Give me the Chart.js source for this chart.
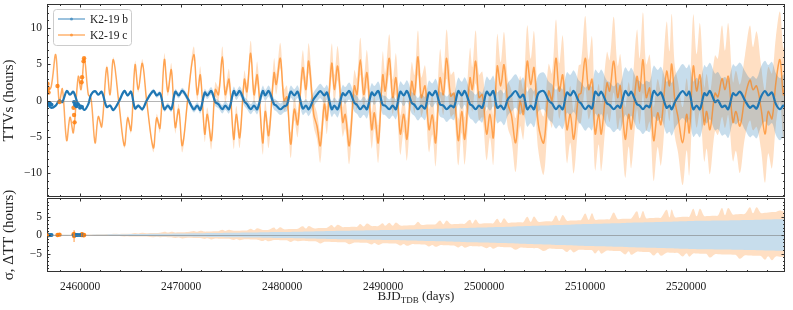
<!DOCTYPE html>
<html>
<head>
<meta charset="utf-8">
<script src="https://cdn.jsdelivr.net/npm/chart.js@4.4.1/dist/chart.umd.min.js"></script>
<style>
  body { margin: 0; background: #fff; width: 793px; height: 310px; overflow: hidden; position: relative; }
  canvas { position: absolute; left: 0; }
  #topChart { top: 0; }
  #botChart { top: 180px; }
</style>
</head>
<body>
<canvas id="topChart" width="793" height="198"></canvas>
<canvas id="botChart" width="793" height="130"></canvas>
<script>
// epoch offsets in days from BJD 2460000
const BJD0 = 2460000;
const epochDays = [
  -3270, -2870, -2410, -2050, -1750, -1320, -990, -660, -170, 100,
  430, 820, 1090, 1490, 1810, 2150, 2640, 2970, 3300, 3860,
  4390, 4720, 5050, 5450, 5770, 6170, 6600, 7260, 7590, 7920,
  8350, 8690, 9040, 9430, 9770, 10130, 10690, 11260, 11610, 11910,
  12350, 12600, 13000, 13390, 13710, 14090, 14380, 14750, 15220, 15470,
  15810, 16270, 16530, 16900, 17230, 17550, 18090, 18340, 18680, 19210,
  19430, 19830, 20200, 20490, 20860, 21220, 21550, 22050, 22370, 22640,
  23140, 23460, 23790, 24190, 24450, 24920, 25180, 25510, 26010, 26260,
  26660, 27160, 27420, 27750, 28090, 28410, 28880, 29140, 29530, 29970,
  30220, 30620, 30960, 31280, 31710, 32050, 32370, 32840, 33120, 33460,
  33790, 34160, 34550, 34880, 35210, 35640, 35970, 36300, 36700, 37030,
  37450, 37790, 38090, 38610, 38840, 39170, 39500, 39830, 40260, 40590,
  40920, 41310, 41650, 41980, 42370, 42700, 43130, 43560, 43890, 44280,
  44620, 44950, 45380, 45910, 46400, 46730, 47120, 47450, 47790, 48210,
  48540, 48880, 49370, 49600, 50020, 50360, 50690, 51010, 51350, 51610,
  52170, 52440, 52840, 53230, 53490, 53980, 54320, 54580, 55140, 55410,
  55740, 56060, 56400, 56800, 57190, 57520, 58080, 58360, 58580, 58900,
  59200, 59670, 60060, 60320, 60720, 61050, 61380, 61810, 62040, 62370,
  62870, 63160, 63560, 63860, 64180, 64650, 64940, 65340, 65840, 66330,
  66630, 66990, 67420, 67820, 68140, 68510, 68900, 69300, 69630, 69800
];

// TTVs (hours)
const ttvB = [
  -0.4, -1.0, -0.7, 0.0, -0.2, 1.3, 0.8, 1.2, -0.6, -0.7,
  -1.3, -0.5, 0.8, 1.3, 0.8, 1.2, -0.9, -0.7, -1.3, -0.1,
  1.3, 0.7, 1.2, -1.1, -0.7, -1.2, 0.0, 1.3, 0.7, 1.0,
  -1.2, -0.7, -1.2, 1.2, 0.7, 1.35, 0.2, -1.2, -0.7, -1.3,
  1.1, 0.7, 1.3, -0.2, -0.5, -1.2, -0.7, -1.2, 1.3, 0.7,
  1.3, -0.1, -0.5, -1.2, -0.7, -1.2, 1.3, 0.7, 1.3, -0.5,
  -0.7, -1.2, -0.8, -0.6, 1.2, 0.7, 1.2, -1.1, -0.7, -1.2,
  0.2, 0.8, 1.3, 0.7, 1.1, -1.2, -0.7, -1.2, 1.0, 0.7,
  1.3, -0.3, -0.6, -1.2, -0.7, -1.2, 1.1, 0.7, 1.3, -0.6,
  -0.7, -1.2, -0.7, -1.2, 1.2, 0.7, 1.3, -0.3, -0.6, -1.2,
  -0.7, -1.1, 1.1, 0.7, 1.3, -0.5, -0.7, -1.2, -0.7, -0.9,
  1.3, 0.7, 1.3, -0.5, -0.7, -1.2, -0.7, -1.0, 1.2, 0.7,
  1.3, -1.0, -0.7, -1.2, 0.2, 0.7, 1.3, 0.4, 0.8, -1.2,
  -0.7, -1.2, 1.0, 1.3, 0.0, -0.4, -1.2, -0.7, -1.2, 1.1,
  0.7, 1.3, -0.1, -0.4, -1.2, -0.7, -1.1, 1.2, 0.7, 1.2,
  -0.4, -0.6, -1.2, -0.7, -1.0, 1.3, 0.7, 1.2, -0.5, -0.7,
  -1.2, -0.7, -0.9, 1.3, 0.7, 1.1, -1.0, -0.7, -1.2, -0.2,
  0.5, 1.3, 0.7, 1.2, -1.2, -0.7, -1.2, 1.0, 0.7, 1.3,
  -0.2, 0.0, -0.9, -0.7, -1.2, 1.0, 0.7, 1.2, 0.0, -1.0,
  -0.7, -1.1, 0.5, 1.3, 0.7, 1.1, -0.5, -1.2, -0.7, -0.9
];
const ttvC = [
  1.2, 1.8, 6.3, -0.3, 1.6, -5.5, -2.3, -4.4, 3.3, 1.5,
  5.8, 0.8, 0.3, -5.8, -2.2, -3.6, 4.5, 0.8, 5.6, -0.5,
  -6.2, -2.4, -4.1, 4.9, 1.5, 5.1, -0.1, -6.5, -2.4, -3.8,
  5.6, 1.2, 4.2, -3.7, -1.2, -6.2, 0.5, 6.3, 0.8, 3.5,
  -4.6, -1.9, -5.5, 1.5, 0.8, 6.0, 0.8, 2.9, -5.3, -1.9,
  -5.1, 2.9, 1.2, 6.5, 0.8, 3.5, -5.8, -1.5, -4.8, 3.8,
  2.2, 5.8, 0.0, 0.5, -6.0, -1.2, -3.3, 4.5, 1.5, 5.4,
  -1.9, -3.5, -6.2, -0.5, -2.7, 5.1, 1.5, 4.7, -3.0, -1.9,
  -6.2, 2.0, 0.8, 5.6, 0.8, 3.8, -4.0, -1.7, -5.8, 3.5,
  1.3, 5.8, 0.4, 3.1, -4.6, -1.9, -5.3, 2.6, 0.8, 6.0,
  0.4, 2.0, -4.0, -2.0, -5.8, 3.1, 0.8, 5.8, 0.6, 1.0,
  -5.5, -1.5, -5.3, 3.1, 1.5, 5.4, 0.4, 0.8, -4.6, -1.9,
  -5.1, 4.7, 2.0, 4.9, -0.5, -1.9, -5.8, -0.1, -1.9, 5.4,
  2.2, 4.5, -3.3, -5.8, 1.3, 0.0, 5.8, 1.3, 3.5, -4.0,
  -1.9, -5.3, 0.8, 1.0, 5.8, 1.5, 2.9, -4.6, -1.9, -4.6,
  2.4, 1.3, 5.4, 0.4, 2.0, -5.3, -1.9, -3.9, 3.3, 1.3,
  5.6, 0.4, 1.7, -5.5, -1.7, -3.3, 4.0, 2.0, 5.0, -0.1,
  -2.2, -5.8, -1.9, -4.4, 4.7, 1.3, 3.5, -3.3, -1.5, -4.0,
  1.0, 0.5, 3.0, 1.5, 3.3, -3.0, -1.5, -3.5, 0.5, 2.8,
  1.5, 2.0, -1.0, -4.6, -1.5, -2.5, 2.5, 5.6, 0.8, 2.0
];

// 1-sigma widths (hours)
const sigB = [
  .03, .04, .04, .05, .05, .06, .07, .08, .08, .09,
  .09, .1, .1, .12, .13, .14, .16, .17, .18, .2,
  .21, .22, .24, .25, .26, .27, .29, .31, .32, .33,
  .35, .36, .37, .38, .4, .41, .43, .45, .47, .48,
  .5, .51, .53, .54, .55, .57, .58, .6, .61, .62,
  .64, .66, .67, .68, .69, .7, .73, .74, .75, .78,
  .78, .8, .82, .83, .84, .86, .87, .9, .92, .94,
  .97, .98, 1.0, 1.03, 1.05, 1.08, 1.1, 1.12, 1.14, 1.15,
  1.17, 1.2, 1.21, 1.22, 1.24, 1.26, 1.28, 1.29, 1.31, 1.33,
  1.34, 1.35, 1.36, 1.38, 1.41, 1.44, 1.47, 1.5, 1.52, 1.55,
  1.58, 1.6, 1.63, 1.65, 1.67, 1.7, 1.72, 1.75, 1.78, 1.8,
  1.83, 1.86, 1.88, 1.95, 1.96, 1.98, 2.0, 2.03, 2.06, 2.08,
  2.1, 2.13, 2.16, 2.19, 2.23, 2.26, 2.3, 2.34, 2.37, 2.41,
  2.44, 2.47, 2.5, 2.55, 2.6, 2.63, 2.67, 2.7, 2.73, 2.78,
  2.8, 2.83, 2.88, 2.9, 2.94, 2.97, 3.0, 3.02, 3.04, 3.05,
  3.1, 3.12, 3.15, 3.18, 3.2, 3.25, 3.28, 3.3, 3.35, 3.37,
  3.4, 3.42, 3.44, 3.47, 3.5, 3.52, 3.56, 3.58, 3.6, 3.62,
  3.65, 3.72, 3.74, 3.76, 3.8, 3.82, 3.83, 3.85, 3.86, 3.87,
  3.9, 3.91, 3.93, 3.94, 3.95, 3.97, 3.98, 4.0, 4.03, 4.06,
  4.08, 4.1, 4.13, 4.16, 4.18, 4.2, 4.23, 4.26, 4.28, 4.3
];
const sigCHi = [
  .05, .06, .09, .07, .08, .09, .09, .1, .15, .11,
  .17, .12, .13, .15, .17, .18, .3, .23, .35, .29,
  .33, .35, .37, .52, .42, .58, .48, .52, .55, .58,
  .85, .65, .9, .7, .74, .77, .81, 1.1, .87, 1.15,
  .92, .94, .97, 1.0, 1.02, 1.4, 1.07, 1.4, 1.13, 1.15,
  1.17, 1.2, 1.22, 1.7, 1.27, 1.8, 1.35, 1.37, 1.4, 2.0,
  1.47, 2.1, 1.53, 1.55, 1.6, 1.63, 1.66, 2.35, 1.74, 2.45,
  1.8, 1.85, 1.88, 1.92, 1.95, 2.7, 2.02, 2.75, 2.1, 2.13,
  2.17, 2.2, 2.23, 3.0, 2.3, 3.1, 2.4, 2.42, 2.45, 3.2,
  2.5, 3.3, 2.5, 3.35, 2.55, 2.58, 2.6, 2.65, 2.7, 3.6,
  2.75, 2.8, 2.85, 2.87, 2.9, 3.9, 2.92, 3.95, 2.95, 2.97,
  3.0, 3.02, 3.04, 4.1, 3.1, 4.2, 3.12, 3.14, 3.17, 3.18,
  3.2, 4.4, 3.25, 4.5, 3.3, 3.35, 3.4, 3.42, 3.47, 4.9,
  3.53, 5.0, 3.6, 3.65, 3.7, 3.72, 5.3, 3.8, 5.4, 3.88,
  3.9, 3.93, 4.0, 4.02, 5.8, 4.08, 5.9, 4.13, 4.16, 4.18,
  4.25, 4.27, 6.1, 4.33, 4.35, 4.4, 4.42, 4.45, 6.4, 4.5,
  6.5, 4.55, 4.58, 4.62, 4.65, 4.68, 6.8, 4.75, 6.9, 4.8,
  4.82, 4.9, 4.93, 4.95, 7.1, 5.05, 7.1, 5.1, 5.12, 5.15,
  5.2, 5.25, 7.3, 5.35, 7.3, 5.5, 5.6, 5.7, 5.75, 7.5,
  5.85, 7.5, 5.95, 6.0, 6.1, 6.2, 6.25, 6.6, 6.35, 6.4
];
const sigCLo = [
  .05, .06, .06, .07, .07, .12, .09, .13, .1, .11,
  .11, .12, .12, .2, .17, .22, .2, .21, .23, .27,
  .38, .33, .42, .38, .39, .41, .43, .62, .5, .6,
  .56, .58, .6, .82, .69, .92, .76, .79, .82, .84,
  1.1, .91, 1.2, .96, .98, 1.0, 1.02, 1.04, 1.37, 1.1,
  1.4, 1.15, 1.17, 1.2, 1.22, 1.25, 1.62, 1.32, 1.7, 1.38,
  1.38, 1.4, 1.43, 1.45, 1.9, 1.52, 1.7, 1.58, 1.63, 1.66,
  1.7, 1.8, 2.3, 1.82, 1.85, 1.9, 1.92, 1.94, 1.97, 1.98,
  2.5, 2.03, 2.05, 2.07, 2.1, 2.12, 2.6, 2.18, 2.7, 2.24,
  2.26, 2.28, 2.3, 2.33, 2.85, 2.4, 2.9, 2.47, 2.5, 2.52,
  2.55, 2.58, 3.1, 2.68, 3.2, 2.75, 2.78, 2.8, 2.84, 2.87,
  3.4, 2.93, 3.45, 3.0, 3.02, 3.05, 3.08, 3.1, 3.6, 3.17,
  3.7, 3.23, 3.26, 3.29, 3.32, 3.35, 4.0, 3.43, 3.46, 3.5,
  3.53, 3.56, 3.6, 4.35, 3.7, 3.72, 3.76, 3.8, 3.82, 4.6,
  3.9, 4.7, 4.0, 4.02, 4.05, 4.08, 4.1, 5.0, 4.15, 5.05,
  4.22, 4.25, 4.3, 4.33, 4.35, 5.3, 4.42, 5.35, 4.5, 4.53,
  4.57, 4.6, 4.63, 5.55, 4.7, 5.6, 4.78, 4.8, 4.83, 4.85,
  4.88, 5.8, 4.95, 5.85, 5.0, 5.03, 5.06, 5.1, 5.12, 6.1,
  5.2, 5.22, 5.25, 5.28, 5.3, 5.35, 5.4, 6.45, 5.5, 5.55,
  5.6, 5.62, 5.67, 6.7, 5.75, 6.8, 5.83, 5.86, 5.88, 5.9
];

// observed transits (K2 / follow-up)
const obsBDays = [-3220, -3120, -2970, -2820, -590, -500, -350, -200, 0, 200];
const obsBTtv = [-0.3, -0.5, -0.4, -0.6, -0.2, -0.6, -0.8, -0.5, -1.0, -0.9];
const obsCDays = [-3220, -3170, -3120, -2230, -2030, -640, -590, -540, 150, 200, 350, 400];
const obsCTtv = [2.3, 1.7, 1.1, 2.0, -0.2, -1.0, -2.0, -3.0, 2.5, 3.2, 5.4, 5.8];
const obsCDtt = [0.1, -0.1, 0.0, 0.0, 0.1, 0.2, -0.3, 0.1, 0.0, 0.2, -0.1, 0.0];
const obsCErr = [0.4, 0.3, 0.3, 0.5, 0.4, 0.6, 1.6, 0.8, 0.5, 0.6, 0.4, 0.4];

const xTicks = [2460000, 2470000, 2480000, 2490000, 2500000, 2510000, 2520000];
const yTicksTop = [-10, -5, 0, 5, 10];
const yTicksBottom = [-5, 0, 5];

const X_MIN = 2456730, X_MAX = 2529800;
const BLUE = '#1f77b4';
const SERIF = '"Liberation Serif", "DejaVu Serif", serif';
const TENSION = 0.35;

const pts = (days, vals) => days.map((d, i) => ({ x: BJD0 + d, y: vals[i] }));
const band = (vals, sig, sign) => epochDays.map((d, i) => ({ x: BJD0 + d, y: vals[i] + sign * sig[i] }));
const zeros = n => new Array(n).fill(0);
const minusFmt = v => (v < 0 ? '\u2212' + Math.abs(v) : String(v));

// frame, inward ticks, zero line
const framePlugin = {
  id: 'frame',
  afterDatasetsDraw(chart, args, o) {
    const { ctx, chartArea: a, scales: { x, y } } = chart;
    ctx.save();
    const y0 = Math.round(y.getPixelForValue(0)) + 0.5;
    ctx.strokeStyle = 'rgba(120,120,120,0.55)';
    ctx.lineWidth = 1;
    ctx.beginPath(); ctx.moveTo(a.left, y0); ctx.lineTo(a.right, y0); ctx.stroke();

    ctx.strokeStyle = '#333';
    ctx.beginPath();
    const tx = (v, len) => {
      const p = Math.round(x.getPixelForValue(v)) + 0.5;
      if (p < a.left || p > a.right) return;
      ctx.moveTo(p, a.bottom); ctx.lineTo(p, a.bottom - len);
      ctx.moveTo(p, a.top); ctx.lineTo(p, a.top + len);
    };
    const ty = (v, len) => {
      const p = Math.round(y.getPixelForValue(v)) + 0.5;
      if (p < a.top || p > a.bottom) return;
      ctx.moveTo(a.left, p); ctx.lineTo(a.left + len, p);
      ctx.moveTo(a.right, p); ctx.lineTo(a.right - len, p);
    };
    for (let v = 2456000; v <= X_MAX; v += 2000) tx(v, v % 10000 === 0 ? 3.5 : 2);
    for (let v = -13; v <= 13; v += 1) ty(v, o.yMajor.includes(v) ? 3.5 : 2);
    ctx.stroke();

    ctx.strokeStyle = '#333';
    ctx.strokeRect(a.left + 0.5, a.top + 0.5, a.right - a.left - 1, a.bottom - a.top - 1);
    ctx.restore();
  }
};

// legend box for the top panel
const legendPlugin = {
  id: 'legendBox',
  afterDraw(chart) {
    const { ctx } = chart;
    ctx.save();
    ctx.fillStyle = 'rgba(255,255,255,0.85)';
    ctx.strokeStyle = '#cccccc';
    ctx.lineWidth = 1;
    ctx.beginPath();
    ctx.roundRect(53.5, 9.5, 78, 36, 3);
    ctx.fill(); ctx.stroke();
    const items = [
      { label: 'K2-19 b', color: 'rgba(31,119,180,0.6)', y: 19 },
      { label: 'K2-19 c', color: 'rgba(255,127,14,0.6)', y: 35 }
    ];
    ctx.font = '11.5px ' + SERIF;
    ctx.textBaseline = 'middle';
    items.forEach(it => {
      ctx.strokeStyle = it.color;
      ctx.lineWidth = 1.5;
      ctx.beginPath(); ctx.moveTo(58, it.y); ctx.lineTo(85, it.y); ctx.stroke();
      ctx.fillStyle = it.color;
      ctx.beginPath(); ctx.arc(71.5, it.y, 1.5, 0, Math.PI * 2); ctx.fill();
      ctx.fillStyle = '#222';
      ctx.fillText(it.label, 90, it.y + 0.5);
    });
    ctx.restore();
  }
};

// error bars on observed points (bottom panel)
const errPlugin = {
  id: 'errBars',
  afterDatasetsDraw(chart) {
    const { ctx, scales: { x, y } } = chart;
    ctx.save();
    ctx.strokeStyle = 'rgba(255,127,14,0.8)';
    ctx.lineWidth = 1;
    ctx.beginPath();
    obsCDays.forEach((d, i) => {
      const px = x.getPixelForValue(BJD0 + d);
      ctx.moveTo(px, y.getPixelForValue(obsCDtt[i] - obsCErr[i]));
      ctx.lineTo(px, y.getPixelForValue(obsCDtt[i] + obsCErr[i]));
    });
    ctx.stroke();
    ctx.restore();
  }
};

// x-axis title with subscript
const xTitlePlugin = {
  id: 'xTitle',
  afterDraw(chart) {
    const { ctx, chartArea: a } = chart;
    ctx.save();
    ctx.fillStyle = '#222';
    ctx.textBaseline = 'alphabetic';
    const big = '13px ' + SERIF, small = '9px ' + SERIF;
    ctx.font = big; const w1 = ctx.measureText('BJD').width; const w3 = ctx.measureText(' (days)').width;
    ctx.font = small; const w2 = ctx.measureText('TDB').width;
    let cx = (a.left + a.right) / 2 - (w1 + w2 + w3) / 2;
    const base = a.bottom + 28;
    ctx.font = big; ctx.fillText('BJD', cx, base); cx += w1;
    ctx.font = small; ctx.fillText('TDB', cx, base + 2.5); cx += w2;
    ctx.font = big; ctx.fillText(' (days)', cx, base);
    ctx.restore();
  }
};

const lineDs = (data, color, width, order) => ({
  data, borderColor: color, borderWidth: width, pointRadius: 0, tension: TENSION, fill: false, order
});
const fillDs = (data, color, order) => ({
  data, borderWidth: 0, pointRadius: 0, backgroundColor: color, tension: TENSION, fill: '-1', order
});
const baseDs = (data, order) => ({
  data, borderWidth: 0, pointRadius: 0, tension: TENSION, fill: false, order
});
const dotDs = (data, color, r, order) => ({
  data, showLine: false, pointRadius: r, pointBackgroundColor: color, pointBorderWidth: 0, order
});

const yScale = (min, max, ticks, title) => ({
  type: 'linear', min, max,
  afterFit: s => { s.width = 47; s.paddingTop = 0; s.paddingBottom = 0; },
  afterBuildTicks: s => { s.ticks = ticks.map(v => ({ value: v })); },
  grid: { display: false, drawTicks: false },
  border: { display: false },
  ticks: { padding: 5, color: '#222', font: { family: SERIF, size: 11.5 }, callback: minusFmt },
  title: { display: true, text: title, color: '#222', padding: { top: 0, bottom: 0 }, font: { family: SERIF, size: 15 } }
});

// TOP PANEL
new Chart(document.getElementById('topChart').getContext('2d'), {
  type: 'line',
  data: {
    datasets: [
      baseDs(band(ttvC, sigCLo, -1), 8),
      fillDs(band(ttvC, sigCHi, 1), 'rgba(255,127,14,0.25)', 8),
      baseDs(band(ttvB, sigB, -1), 7),
      fillDs(band(ttvB, sigB, 1), 'rgba(31,119,180,0.25)', 7),
      lineDs(pts(epochDays, ttvC), 'rgba(255,127,14,0.65)', 1.5, 4),
      lineDs(pts(epochDays, ttvB), BLUE, 2.2, 3),
      dotDs(pts(obsCDays, obsCTtv), 'rgba(255,127,14,0.85)', 2.2, 2),
      dotDs(pts(obsBDays, obsBTtv), BLUE, 2, 1)
    ]
  },
  options: {
    responsive: false, animation: false, devicePixelRatio: 1,
    layout: { autoPadding: false, padding: { top: 4, right: 8, bottom: 1, left: 0 } },
    plugins: { legend: { display: false }, tooltip: { enabled: false }, frame: { yMajor: yTicksTop } },
    scales: {
      x: { type: 'linear', min: X_MIN, max: X_MAX, display: false },
      y: yScale(-13.25, 13.25, yTicksTop, 'TTVs (hours)')
    }
  },
  plugins: [framePlugin, legendPlugin]
});

// BOTTOM PANEL (canvas starts at y=180 so its axis title is not cut)
const flat = zeros(epochDays.length);
new Chart(document.getElementById('botChart').getContext('2d'), {
  type: 'line',
  data: {
    datasets: [
      baseDs(band(flat, sigCLo, -1), 8),
      fillDs(band(flat, sigCHi, 1), 'rgba(255,127,14,0.25)', 8),
      baseDs(band(flat, sigB, -1), 7),
      fillDs(band(flat, sigB, 1), 'rgb(199,221,236)', 7),
      dotDs(pts(obsCDays, obsCDtt), 'rgba(255,127,14,0.9)', 2.2, 2),
      dotDs(pts(obsBDays, zeros(obsBDays.length)), BLUE, 2, 1)
    ]
  },
  options: {
    responsive: false, animation: false, devicePixelRatio: 1,
    layout: { autoPadding: false, padding: { top: 18, right: 8, bottom: 0, left: 0 } },
    plugins: { legend: { display: false }, tooltip: { enabled: false }, frame: { yMajor: yTicksBottom } },
    scales: {
      x: {
        type: 'linear', min: X_MIN, max: X_MAX,
        afterFit: s => { s.height = 38; s.paddingLeft = 0; s.paddingRight = 0; },
        afterBuildTicks: s => { s.ticks = xTicks.map(v => ({ value: v })); },
        grid: { display: false, drawTicks: false },
        border: { display: false },
        ticks: { padding: 8, maxRotation: 0, color: '#222', font: { family: SERIF, size: 11.5 }, callback: v => String(v) }
      },
      y: yScale(-10, 10, yTicksBottom, '\u03c3, \u0394TT (hours)')
    }
  },
  plugins: [framePlugin, errPlugin, xTitlePlugin]
});
</script>
</body>
</html>
